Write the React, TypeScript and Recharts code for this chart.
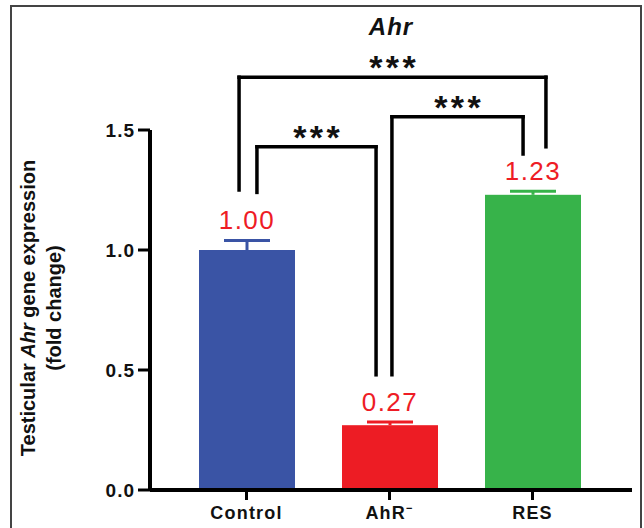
import { Bar, BarChart, Cell, LabelList, ReferenceLine, XAxis, YAxis } from 'recharts';

const groups = ['Control', 'AhR⁻', 'RES'];
const means = [1.0, 0.27, 1.23];
const sems = [0.04, 0.013, 0.015];
const valueLabels = ['1.00', '0.27', '1.23'];
const barColors = ['#3a54a5', '#ed1c24', '#37b34a'];
const yTicks = [0, 0.5, 1.0, 1.5];

// significance brackets: compared groups, bracket height, where each leg stops
const brackets = [
  { from: 0, to: 1, top: 1.43, leftEnd: 1.24, rightEnd: 0.48, label: '***' },
  { from: 1, to: 2, top: 1.555, leftEnd: 0.48, rightEnd: 1.4, label: '***' },
  { from: 0, to: 2, top: 1.72, leftEnd: 1.25, rightEnd: 1.43, label: '***' },
];
// small horizontal shift of each leg away from the bar centre (in bands)
const legShift = [
  [0.073, -0.094],
  [0.017, -0.066],
  [-0.052, 0.094],
];

const rows = groups.map((g, i) => ({
  group: g,
  idx: i,
  mean: means[i],
  sem: sems[i],
  label: valueLabels[i],
}));

const FONT = '"Liberation Sans", Arial, Helvetica, sans-serif';
const PAD = { left: 25, right: 28 };

function BarWithError(props: any) {
  const { x, y, width, height, fill, payload } = props;
  const perUnit = height / payload.mean;
  const top = y - payload.sem * perUnit;
  const cx = x + width / 2;
  return (
    <g>
      <rect x={x} y={y} width={width} height={height} fill={fill} />
      <line x1={cx} y1={y} x2={cx} y2={top} stroke={fill} strokeWidth={3} />
      <line x1={cx - 23} y1={top} x2={cx + 23} y2={top} stroke={fill} strokeWidth={3} />
    </g>
  );
}

function ValueLabel(props: any) {
  const { x, y, width, height, value, index } = props;
  const perUnit = height / means[index];
  const capY = y - sems[index] * perUnit;
  return (
    <text
      x={x + width / 2}
      y={capY - 11}
      textAnchor="middle"
      fill="#ee1c25"
      fontSize={26}
      letterSpacing={1.5}
      fontFamily={FONT}
    >
      {value}
    </text>
  );
}

function GroupTick(props: any) {
  const { x, y, payload } = props;
  const v: string = payload.value;
  const sup = v.endsWith('⁻');
  const base = sup ? v.slice(0, -1) : v;
  return (
    <text
      x={x}
      y={y}
      dy="0.71em"
      textAnchor="middle"
      fontSize={18}
      fontWeight="bold"
      letterSpacing={1.2}
      fill="#111"
      fontFamily={FONT}
    >
      {base}
      {sup && (
        <tspan dy={-7} fontSize={11}>
          −
        </tspan>
      )}
    </text>
  );
}

function YLabel(props: any) {
  const { viewBox } = props;
  const cy = viewBox.y + viewBox.height / 2 - 2;
  const common = {
    textAnchor: 'middle' as const,
    fontSize: 20,
    fontWeight: 'bold',
    fill: '#111',
    fontFamily: FONT,
  };
  return (
    <g>
      <text x={35} y={cy} transform={`rotate(-90, 35, ${cy})`} {...common}>
        Testicular <tspan fontStyle="italic">Ahr</tspan> gene expression
      </text>
      <text x={61} y={cy} transform={`rotate(-90, 61, ${cy})`} {...common}>
        (fold change)
      </text>
    </g>
  );
}

function starsLabel(text: string) {
  return (props: any) => {
    const vb = props.viewBox;
    return (
      <text
        x={vb.x + vb.width / 2}
        y={vb.y + 2}
        dx={1.75}
        textAnchor="middle"
        fontSize={34}
        fontWeight="bold"
        letterSpacing={3.5}
        fill="#111"
        fontFamily={FONT}
      >
        {text}
      </text>
    );
  };
}

export default function App() {
  return (
    <div
      style={{
        position: 'absolute',
        left: 0,
        top: 0,
        width: 644,
        height: 528,
        overflow: 'hidden',
        background: '#fff',
      }}
    >
      <svg width={644} height={528} style={{ position: 'absolute', left: 0, top: 0 }}>
        <rect x={11} y={6} width={630} height={600} fill="none" stroke="#444" strokeWidth={2} />
        <text
          x={391}
          y={35}
          textAnchor="middle"
          fontSize={24}
          fontWeight="bold"
          fontStyle="italic"
          letterSpacing={1}
          fill="#111"
          fontFamily={FONT}
        >
          Ahr
        </text>
      </svg>
      <div style={{ position: 'absolute', left: 0, top: 0 }}>
        <BarChart
          width={644}
          height={528}
          data={rows}
          margin={{ top: 130, right: 12, bottom: 0, left: 0 }}
        >
          <XAxis
            dataKey="group"
            padding={PAD}
            height={38}
            interval={0}
            tickSize={10}
            tickMargin={6}
            axisLine={{ stroke: '#000', strokeWidth: 4 }}
            tickLine={{ stroke: '#000', strokeWidth: 3 }}
            tick={<GroupTick />}
          />
          <XAxis
            xAxisId="pos"
            dataKey="idx"
            type="number"
            domain={[-0.5, 2.5]}
            allowDataOverflow
            padding={PAD}
            hide
          />
          <YAxis
            domain={[0, 1.5]}
            ticks={yTicks}
            allowDataOverflow
            width={150}
            tickSize={12}
            tickMargin={3}
            tickFormatter={(v: number) => v.toFixed(1)}
            axisLine={{ stroke: '#000', strokeWidth: 4 }}
            tickLine={{ stroke: '#000', strokeWidth: 3 }}
            tick={{ fill: '#111', fontSize: 19, fontWeight: 'bold', fontFamily: FONT, letterSpacing: 1 }}
            label={{ content: <YLabel /> }}
          />
          <Bar dataKey="mean" barSize={96} isAnimationActive={false} shape={<BarWithError />}>
            {rows.map((r, i) => (
              <Cell key={r.group} fill={barColors[i]} />
            ))}
            <LabelList dataKey="label" content={<ValueLabel />} />
          </Bar>
          {brackets.map((b, i) => {
            const xl = b.from + legShift[i][0];
            const xr = b.to + legShift[i][1];
            const line = {
              xAxisId: 'pos',
              stroke: '#000',
              strokeWidth: 3.5,
              strokeLinecap: 'square' as const,
              ifOverflow: 'visible' as const,
            };
            return [
              <ReferenceLine
                key={`l${i}`}
                {...line}
                segment={[
                  { x: xl, y: b.leftEnd },
                  { x: xl, y: b.top },
                ]}
              />,
              <ReferenceLine
                key={`t${i}`}
                {...line}
                segment={[
                  { x: xl, y: b.top },
                  { x: xr, y: b.top },
                ]}
                label={{ content: starsLabel(b.label) }}
              />,
              <ReferenceLine
                key={`r${i}`}
                {...line}
                segment={[
                  { x: xr, y: b.top },
                  { x: xr, y: b.rightEnd },
                ]}
              />,
            ];
          })}
        </BarChart>
      </div>
    </div>
  );
}
